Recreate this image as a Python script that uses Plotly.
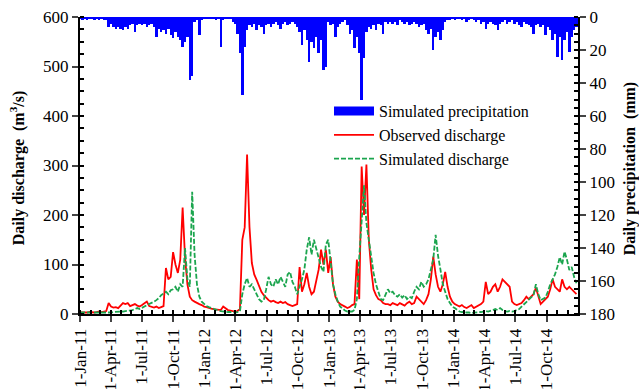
import pandas as pd
import plotly.graph_objects as go

# Weekly sample dates (Jan 2011 - Dec 2014)
dates = pd.date_range("2011-01-01", periods=209, freq="7D")

# Simulated precipitation (mm), weekly readings
precip = [
    1, 2, 1, 2, 1, 1, 2, 1, 2, 1, 2, 2, 6, 4, 6, 7, 6, 7, 8, 6,
    7, 5, 4, 9, 5, 4, 5, 4, 6, 5, 4, 6, 12, 7, 9, 8, 10, 7, 11, 13,
    9, 12, 14, 18, 15, 12, 38, 36, 3, 2, 11, 2, 1, 1, 1, 1, 1, 2, 1, 18,
    2, 1, 1, 1, 3, 4, 10, 22, 47, 18, 8, 5, 6, 4, 8, 5, 6, 10, 5, 4,
    6, 4, 3, 5, 7, 4, 3, 5, 4, 3, 4, 6, 9, 17, 8, 14, 27, 15, 19, 12,
    22, 14, 32, 30, 3, 5, 4, 12, 6, 4, 3, 2, 5, 10, 8, 19, 12, 22, 50, 25,
    9, 6, 7, 5, 8, 4, 5, 10, 3, 4, 3, 4, 3, 5, 2, 3, 4, 3, 5, 4,
    3, 4, 6, 5, 4, 8, 10, 7, 20, 12, 9, 14, 8, 3, 2, 2, 1, 2, 1, 1,
    2, 1, 3, 2, 1, 2, 3, 2, 4, 3, 7, 4, 3, 4, 5, 8, 4, 3, 2, 4,
    3, 2, 4, 3, 5, 6, 3, 4, 5, 6, 10, 5, 4, 6, 5, 11, 6, 8, 14, 10,
    24, 12, 26, 14, 9, 21, 12, 8, 6,
]

# Observed discharge (m3/s), weekly readings
observed = [
    3, 3, 2, 3, 4, 3, 3, 4, 5, 4, 5, 6, 22, 15, 13, 14, 12, 18, 22, 20,
    22, 16, 18, 20, 17, 15, 18, 22, 25, 16, 14, 13, 15, 12, 14, 16, 93, 70, 75, 125,
    100, 83, 110, 215, 115, 60, 35, 28, 25, 22, 20, 18, 15, 14, 12, 11, 10, 9, 9, 8,
    15, 12, 8, 7, 6, 5, 6, 10, 150, 175, 322, 176, 103, 80, 69, 55, 45, 38, 32, 28,
    25, 27, 24, 22, 25, 22, 24, 20, 18, 16, 18, 20, 95, 45, 60, 83, 55, 40, 45, 68,
    90, 130, 100, 130, 83, 115, 60, 35, 25, 20, 18, 15, 12, 14, 18, 20, 110, 30, 298, 200,
    302, 150, 90, 50, 38, 30, 28, 22, 20, 20, 18, 22, 20, 18, 22, 20, 17, 22, 25, 20,
    22, 35, 30, 25, 20, 28, 40, 70, 116, 80, 55, 45, 60, 85, 55, 35, 25, 20, 18, 15,
    18, 14, 12, 15, 18, 12, 15, 18, 20, 25, 65, 40, 45, 55, 60, 45, 55, 70, 65, 60,
    55, 25, 20, 18, 20, 22, 28, 35, 30, 35, 40, 53, 35, 20, 25, 30, 35, 50, 70, 55,
    50, 45, 70, 55, 50, 55, 50, 45, 40,
]

# Simulated discharge (m3/s), weekly readings
simulated = [
    3, 3, 2, 2, 2, 2, 2, 2, 2, 2, 3, 3, 3, 3, 4, 4, 4, 5, 5, 6,
    6, 7, 8, 10, 12, 10, 12, 15, 18, 20, 22, 25, 28, 32, 38, 42, 45, 40, 48, 50,
    55, 45, 60, 55, 133, 70, 55, 247, 120, 60, 35, 25, 20, 16, 14, 12, 10, 8, 7, 6,
    5, 5, 4, 4, 3, 3, 4, 5, 40, 60, 73, 55, 60, 50, 40, 30, 25, 28, 50, 75,
    60, 55, 70, 60, 75, 65, 55, 80, 85, 65, 55, 40, 55, 70, 90, 130, 155, 120, 150, 130,
    110, 95, 85, 140, 150, 100, 60, 40, 25, 15, 10, 7, 5, 5, 5, 8, 30, 115, 200, 260,
    184, 150, 110, 83, 60, 45, 30, 28, 40, 50, 42, 45, 38, 35, 40, 33, 38, 30, 35, 32,
    45, 55, 50, 65, 55, 60, 70, 90, 110, 160, 118, 90, 60, 45, 30, 22, 15, 12, 8, 5,
    4, 3, 3, 3, 2, 3, 3, 4, 4, 5, 6, 5, 6, 8, 10, 8, 12, 8, 6, 5,
    6, 5, 6, 8, 10, 15, 20, 25, 30, 35, 38, 60, 40, 28, 30, 33, 45, 60, 70, 80,
    95, 115, 100, 126, 110, 89, 95, 75, 62,
]

SERIF = "Liberation Serif"
BLUE = "#0000FF"
RED = "#FF0000"
GREEN = "#1BA54E"

fig = go.Figure()
fig.add_trace(go.Bar(
    x=dates, y=precip, yaxis="y2", name="Simulated precipitation",
    marker=dict(color=BLUE, line=dict(width=0)),
    width=7 * 86400000, showlegend=False,
))
# legend-only entry giving the wide bar swatch
fig.add_trace(go.Scatter(
    x=[None], y=[None], mode="lines", name="Simulated precipitation",
    line=dict(color=BLUE, width=9),
))
fig.add_trace(go.Scatter(
    x=dates, y=observed, mode="lines", name="Observed discharge",
    line=dict(color=RED, width=1.8),
))
fig.add_trace(go.Scatter(
    x=dates, y=simulated, mode="lines", name="Simulated discharge",
    line=dict(color=GREEN, width=1.8, dash="5px,2px"),
))

fig.update_layout(
    width=639, height=389,
    margin=dict(l=80, r=61, t=17, b=75),
    plot_bgcolor="white", paper_bgcolor="white",
    font=dict(family=SERIF, size=15, color="black"),
    bargap=0,
    showlegend=True,
    legend=dict(
        x=0.50, y=0.74, xanchor="left", yanchor="top",
        bgcolor="rgba(0,0,0,0)", font=dict(family=SERIF, size=16),
        tracegroupgap=0, itemwidth=40,
    ),
    xaxis=dict(
        range=["2011-01-01", "2014-12-31 12:00"], automargin=False,
        tick0="2011-01-01", dtick="M3", tickformat="%-d-%b-%y",
        tickangle=-90, ticks="outside", ticklen=6, tickwidth=1.5,
        showline=True, linecolor="black", linewidth=2,
        showgrid=False, zeroline=False,
        minor=dict(dtick="M1", ticks="inside", ticklen=4, tickcolor="black", showgrid=False),
        tickfont=dict(family=SERIF, size=17),
    ),
    yaxis=dict(
        range=[0, 600], dtick=100, automargin=False,
        ticks="outside", ticklen=6, tickwidth=1.5,
        showline=True, linecolor="black", linewidth=2,
        showgrid=False, zeroline=False,
        minor=dict(dtick=25, ticks="inside", ticklen=4, tickcolor="black", showgrid=False),
        tickfont=dict(family=SERIF, size=17),
    ),
    yaxis2=dict(
        overlaying="y", side="right", range=[180, 0], dtick=20, automargin=False,
        ticks="outside", ticklen=6, tickwidth=1.5,
        showline=True, linecolor="black", linewidth=2,
        showgrid=False, zeroline=False,
        minor=dict(dtick=5, ticks="inside", ticklen=4, tickcolor="black", showgrid=False),
        tickfont=dict(family=SERIF, size=17),
    ),
    annotations=[
        dict(text="<b>Daily discharge  (m<sup>3</sup>/s)</b>", xref="paper", yref="paper",
             x=-0.125, y=0.49, xanchor="center", yanchor="middle", textangle=-90,
             showarrow=False, font=dict(family=SERIF, size=16)),
        dict(text="<b>Daily precipitation  (mm)</b>", xref="paper", yref="paper",
             x=1.106, y=0.49, xanchor="center", yanchor="middle", textangle=-90,
             showarrow=False, font=dict(family=SERIF, size=16)),
    ],
)

fig.write_html("out.html")
